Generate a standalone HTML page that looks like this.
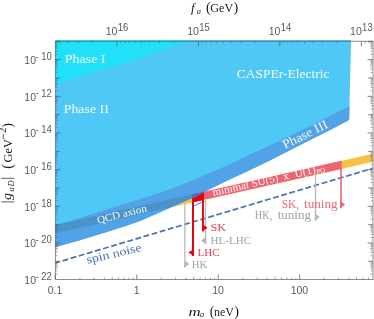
<!DOCTYPE html>
<html><head><meta charset="utf-8"><title>CASPEr-Electric sensitivity</title>
<style>html,body{margin:0;padding:0;background:#fff;}body{width:374px;height:319px;overflow:hidden;font-family:"Liberation Sans",sans-serif;}</style>
</head><body>
<svg width="374" height="319" viewBox="0 0 374 319" style="display:block;will-change:transform">
<rect width="374" height="319" fill="#fff"/>
<defs>
<clipPath id="cas"><polygon points="55.30,40.00 351.10,40.00 349.10,119.70 347.40,121.00 328.10,131.00 308.10,141.00 288.50,151.00 268.90,161.00 248.10,171.00 226.50,181.00 206.20,191.10 194.80,197.00 185.40,201.00 163.00,211.00 140.20,221.00 125.00,226.30 110.10,231.00 77.30,241.00 55.30,247.20"/></clipPath>
<clipPath id="plot"><rect x="55.4" y="40.0" width="317.20000000000005" height="239.5"/></clipPath>
</defs>
<g clip-path="url(#plot)">
<polygon points="55.40,225.14 374.60,153.28 374.60,161.48 55.40,233.34" fill="#f5c242"/>
<polygon points="192.00,194.39 341.60,160.71 341.60,168.91 192.00,202.59" fill="#ee6474"/>
<polygon points="192.00,194.39 204.00,191.69 204.00,199.89 192.00,202.59" fill="#e8000e"/>
<polygon points="55.30,40.00 351.10,40.00 349.10,119.70 347.40,121.00 328.10,131.00 308.10,141.00 288.50,151.00 268.90,161.00 248.10,171.00 226.50,181.00 206.20,191.10 194.80,197.00 185.40,201.00 163.00,211.00 140.20,221.00 125.00,226.30 110.10,231.00 77.30,241.00 55.30,247.20" fill="#4fc8f5"/>
<polygon points="55.30,224.20 70.70,221.00 100.00,211.40 133.90,201.00 165.20,191.00 191.20,181.00 214.40,171.00 236.80,161.00 257.50,151.00 279.30,141.00 300.00,131.00 319.70,121.20 338.50,111.60 349.50,106.20 349.10,119.70 347.40,121.00 328.10,131.00 308.10,141.00 288.50,151.00 268.90,161.00 248.10,171.00 226.50,181.00 206.20,191.10 194.80,197.00 185.40,201.00 163.00,211.00 140.20,221.00 125.00,226.30 110.10,231.00 77.30,241.00 55.30,247.20" fill="#52a2e8"/>
<polygon points="55.30,40.00 191.40,40.00 162.90,50.00 134.50,60.00 101.70,70.00 68.40,80.00 55.30,83.90" fill="#22e0f7"/>
<g clip-path="url(#cas)">
<polygon points="55.40,225.14 372.60,153.73 372.60,161.93 55.40,233.34" fill="#4a93c6"/>
<polygon points="192.00,194.39 204.00,191.69 204.00,199.89 192.00,202.59" fill="#4a6cc0"/>
</g>
<line x1="55.4" y1="262.93" x2="373.6" y2="168.01" stroke="#4a72b4" stroke-width="1.75" stroke-dasharray="5.9 2.55" stroke-dashoffset="1.0"/>
<line x1="184.9" y1="203.68" x2="184.9" y2="267.6" stroke="#b8b8b8" stroke-width="1.3"/>
<polygon points="184.3,260.4 189.5,264.0 184.3,267.6" fill="#b8b8b8"/>
<line x1="205.5" y1="199.05" x2="205.5" y2="244.2" stroke="#b8b8b8" stroke-width="1.3"/>
<polygon points="206.1,236.8 200.9,240.5 206.1,244.2" fill="#b8b8b8"/>
<line x1="315.5" y1="174.29" x2="315.5" y2="220.7" stroke="#b8b8b8" stroke-width="1.3"/>
<polygon points="314.9,213.2 319.7,216.9 314.9,220.7" fill="#b8b8b8"/>
<line x1="193" y1="201.86" x2="193" y2="256.1" stroke="#e8000e" stroke-width="2"/>
<polygon points="194,248.9 188.4,252.5 194,256.1" fill="#e8000e"/>
<line x1="203.0" y1="199.61" x2="203.0" y2="231.2" stroke="#e8000e" stroke-width="1.9"/>
<polygon points="202.0,224.0 207.7,227.8 202.0,231.6" fill="#e8000e"/>
<line x1="341" y1="168.55" x2="341" y2="208.2" stroke="#ee6474" stroke-width="1.6"/>
<polygon points="340.2,201 345.2,204.6 340.2,208.2" fill="#ee6474"/>
<line x1="192" y1="206.6" x2="204.5" y2="201.2" stroke="#3a4a9a" stroke-width="0.8"/>
</g>
<text x="64.7" y="63" font-family="'Liberation Serif', serif" font-size="12.8" fill="#fff" fill-opacity="0.94" text-anchor="start" textLength="41.0" lengthAdjust="spacingAndGlyphs">Phase I</text>
<text x="63.7" y="113.1" font-family="'Liberation Serif', serif" font-size="12.8" fill="#fff" fill-opacity="0.94" text-anchor="start" textLength="45.1" lengthAdjust="spacingAndGlyphs">Phase II</text>
<text x="236.8" y="78.3" font-family="'Liberation Serif', serif" font-size="13" fill="#fff" fill-opacity="0.94" text-anchor="start" textLength="92.6" lengthAdjust="spacingAndGlyphs">CASPEr-Electric</text>
<text x="285" y="149.1" font-family="'Liberation Serif', serif" font-size="12.8" fill="#fff" fill-opacity="0.94" text-anchor="start" textLength="49" lengthAdjust="spacingAndGlyphs" transform="rotate(-26.6 285 149.1)">Phase III</text>
<text x="97.9" y="223.6" font-family="'Liberation Serif', serif" font-size="10.3" fill="#fff" fill-opacity="0.94" text-anchor="start" textLength="51.0" lengthAdjust="spacingAndGlyphs" transform="rotate(-14.0 97.9 223.6)">QCD axion</text>
<text x="87.4" y="263.8" font-family="'Liberation Serif', serif" font-size="12" fill="#4a72b4" text-anchor="start" textLength="56.3" lengthAdjust="spacingAndGlyphs" transform="rotate(-13.3 87.4 263.8)">spin noise</text>
<g transform="translate(213.2 196.0) rotate(-12.7)" font-family="'Liberation Serif', serif" fill="#fff">
<text x="0" y="0" font-size="11" textLength="67.3" lengthAdjust="spacingAndGlyphs">minimal SU(5)</text>
<text x="72.7" y="0" font-size="11">x</text>
<text x="84.3" y="0" font-size="11" textLength="21.4" lengthAdjust="spacingAndGlyphs">U(1)</text>
<text x="106" y="1.6" font-size="7.5" textLength="9.2" lengthAdjust="spacingAndGlyphs">PQ</text>
</g>
<text x="210.6" y="231.0" font-family="'Liberation Serif', serif" font-size="11.2" fill="#e63a48" text-anchor="start" textLength="15.6" lengthAdjust="spacingAndGlyphs">SK</text>
<text x="210.4" y="244.4" font-family="'Liberation Serif', serif" font-size="11.2" fill="#a2a2a2" text-anchor="start" textLength="40.8" lengthAdjust="spacingAndGlyphs">HL-LHC</text>
<text x="197.4" y="255.9" font-family="'Liberation Serif', serif" font-size="11.2" fill="#e63a48" text-anchor="start" textLength="22.2" lengthAdjust="spacingAndGlyphs">LHC</text>
<text x="191.7" y="267.9" font-family="'Liberation Serif', serif" font-size="11.2" fill="#a2a2a2" text-anchor="start" textLength="15.6" lengthAdjust="spacingAndGlyphs">HK</text>
<text x="281.7" y="207.6" font-family="'Liberation Serif', serif" font-size="11.5" fill="#ee6878" text-anchor="start" textLength="17.4" lengthAdjust="spacingAndGlyphs">SK,</text>
<text x="304.0" y="207.6" font-family="'Liberation Serif', serif" font-size="11.5" fill="#ee6878" text-anchor="start" textLength="33.6" lengthAdjust="spacingAndGlyphs">tuning</text>
<text x="254.8" y="218.8" font-family="'Liberation Serif', serif" font-size="11.5" fill="#a2a2a2" text-anchor="start" textLength="17.6" lengthAdjust="spacingAndGlyphs">HK,</text>
<text x="277.7" y="218.8" font-family="'Liberation Serif', serif" font-size="11.5" fill="#a2a2a2" text-anchor="start" textLength="33.3" lengthAdjust="spacingAndGlyphs">tuning</text>
<polyline points="372.90000000000003,41.3 55.4,41.3 55.4,279.5 372.90000000000003,279.5" fill="none" stroke="#5c5c5c" stroke-width="0.95" opacity="0.74"/>
<rect x="372.0" y="40.8" width="2.2" height="239.2" fill="#5c5c5c" opacity="0.34"/>
<line x1="55.40" y1="274.13" x2="57.40" y2="274.13" stroke="#5c5c5c" stroke-width="0.65" opacity="0.85"/>
<line x1="372.60" y1="274.13" x2="370.60" y2="274.13" stroke="#5c5c5c" stroke-width="0.65" opacity="0.85"/>
<line x1="55.40" y1="270.90" x2="57.40" y2="270.90" stroke="#5c5c5c" stroke-width="0.65" opacity="0.85"/>
<line x1="372.60" y1="270.90" x2="370.60" y2="270.90" stroke="#5c5c5c" stroke-width="0.65" opacity="0.85"/>
<line x1="55.40" y1="268.61" x2="57.40" y2="268.61" stroke="#5c5c5c" stroke-width="0.65" opacity="0.85"/>
<line x1="372.60" y1="268.61" x2="370.60" y2="268.61" stroke="#5c5c5c" stroke-width="0.65" opacity="0.85"/>
<line x1="55.40" y1="266.83" x2="58.00" y2="266.83" stroke="#5c5c5c" stroke-width="0.65" opacity="0.85"/>
<line x1="372.60" y1="266.83" x2="370.00" y2="266.83" stroke="#5c5c5c" stroke-width="0.65" opacity="0.85"/>
<line x1="55.40" y1="265.38" x2="57.40" y2="265.38" stroke="#5c5c5c" stroke-width="0.65" opacity="0.85"/>
<line x1="372.60" y1="265.38" x2="370.60" y2="265.38" stroke="#5c5c5c" stroke-width="0.65" opacity="0.85"/>
<line x1="55.40" y1="264.15" x2="57.40" y2="264.15" stroke="#5c5c5c" stroke-width="0.65" opacity="0.85"/>
<line x1="372.60" y1="264.15" x2="370.60" y2="264.15" stroke="#5c5c5c" stroke-width="0.65" opacity="0.85"/>
<line x1="55.40" y1="263.09" x2="57.40" y2="263.09" stroke="#5c5c5c" stroke-width="0.65" opacity="0.85"/>
<line x1="372.60" y1="263.09" x2="370.60" y2="263.09" stroke="#5c5c5c" stroke-width="0.65" opacity="0.85"/>
<line x1="55.40" y1="262.15" x2="57.40" y2="262.15" stroke="#5c5c5c" stroke-width="0.65" opacity="0.85"/>
<line x1="372.60" y1="262.15" x2="370.60" y2="262.15" stroke="#5c5c5c" stroke-width="0.65" opacity="0.85"/>
<line x1="55.40" y1="261.31" x2="59.80" y2="261.31" stroke="#5c5c5c" stroke-width="0.85" opacity="0.9"/>
<line x1="372.60" y1="261.31" x2="368.20" y2="261.31" stroke="#5c5c5c" stroke-width="0.85" opacity="0.9"/>
<line x1="55.40" y1="255.79" x2="57.40" y2="255.79" stroke="#5c5c5c" stroke-width="0.65" opacity="0.85"/>
<line x1="372.60" y1="255.79" x2="370.60" y2="255.79" stroke="#5c5c5c" stroke-width="0.65" opacity="0.85"/>
<line x1="55.40" y1="252.57" x2="57.40" y2="252.57" stroke="#5c5c5c" stroke-width="0.65" opacity="0.85"/>
<line x1="372.60" y1="252.57" x2="370.60" y2="252.57" stroke="#5c5c5c" stroke-width="0.65" opacity="0.85"/>
<line x1="55.40" y1="250.28" x2="57.40" y2="250.28" stroke="#5c5c5c" stroke-width="0.65" opacity="0.85"/>
<line x1="372.60" y1="250.28" x2="370.60" y2="250.28" stroke="#5c5c5c" stroke-width="0.65" opacity="0.85"/>
<line x1="55.40" y1="248.50" x2="58.00" y2="248.50" stroke="#5c5c5c" stroke-width="0.65" opacity="0.85"/>
<line x1="372.60" y1="248.50" x2="370.00" y2="248.50" stroke="#5c5c5c" stroke-width="0.65" opacity="0.85"/>
<line x1="55.40" y1="247.05" x2="57.40" y2="247.05" stroke="#5c5c5c" stroke-width="0.65" opacity="0.85"/>
<line x1="372.60" y1="247.05" x2="370.60" y2="247.05" stroke="#5c5c5c" stroke-width="0.65" opacity="0.85"/>
<line x1="55.40" y1="245.82" x2="57.40" y2="245.82" stroke="#5c5c5c" stroke-width="0.65" opacity="0.85"/>
<line x1="372.60" y1="245.82" x2="370.60" y2="245.82" stroke="#5c5c5c" stroke-width="0.65" opacity="0.85"/>
<line x1="55.40" y1="244.76" x2="57.40" y2="244.76" stroke="#5c5c5c" stroke-width="0.65" opacity="0.85"/>
<line x1="372.60" y1="244.76" x2="370.60" y2="244.76" stroke="#5c5c5c" stroke-width="0.65" opacity="0.85"/>
<line x1="55.40" y1="243.82" x2="57.40" y2="243.82" stroke="#5c5c5c" stroke-width="0.65" opacity="0.85"/>
<line x1="372.60" y1="243.82" x2="370.60" y2="243.82" stroke="#5c5c5c" stroke-width="0.65" opacity="0.85"/>
<line x1="55.40" y1="242.98" x2="60.40" y2="242.98" stroke="#5c5c5c" stroke-width="0.85" opacity="0.9"/>
<line x1="372.60" y1="242.98" x2="367.60" y2="242.98" stroke="#5c5c5c" stroke-width="0.85" opacity="0.9"/>
<line x1="55.40" y1="237.46" x2="57.40" y2="237.46" stroke="#5c5c5c" stroke-width="0.65" opacity="0.85"/>
<line x1="372.60" y1="237.46" x2="370.60" y2="237.46" stroke="#5c5c5c" stroke-width="0.65" opacity="0.85"/>
<line x1="55.40" y1="234.23" x2="57.40" y2="234.23" stroke="#5c5c5c" stroke-width="0.65" opacity="0.85"/>
<line x1="372.60" y1="234.23" x2="370.60" y2="234.23" stroke="#5c5c5c" stroke-width="0.65" opacity="0.85"/>
<line x1="55.40" y1="231.94" x2="57.40" y2="231.94" stroke="#5c5c5c" stroke-width="0.65" opacity="0.85"/>
<line x1="372.60" y1="231.94" x2="370.60" y2="231.94" stroke="#5c5c5c" stroke-width="0.65" opacity="0.85"/>
<line x1="55.40" y1="230.17" x2="58.00" y2="230.17" stroke="#5c5c5c" stroke-width="0.65" opacity="0.85"/>
<line x1="372.60" y1="230.17" x2="370.00" y2="230.17" stroke="#5c5c5c" stroke-width="0.65" opacity="0.85"/>
<line x1="55.40" y1="228.71" x2="57.40" y2="228.71" stroke="#5c5c5c" stroke-width="0.65" opacity="0.85"/>
<line x1="372.60" y1="228.71" x2="370.60" y2="228.71" stroke="#5c5c5c" stroke-width="0.65" opacity="0.85"/>
<line x1="55.40" y1="227.49" x2="57.40" y2="227.49" stroke="#5c5c5c" stroke-width="0.65" opacity="0.85"/>
<line x1="372.60" y1="227.49" x2="370.60" y2="227.49" stroke="#5c5c5c" stroke-width="0.65" opacity="0.85"/>
<line x1="55.40" y1="226.42" x2="57.40" y2="226.42" stroke="#5c5c5c" stroke-width="0.65" opacity="0.85"/>
<line x1="372.60" y1="226.42" x2="370.60" y2="226.42" stroke="#5c5c5c" stroke-width="0.65" opacity="0.85"/>
<line x1="55.40" y1="225.49" x2="57.40" y2="225.49" stroke="#5c5c5c" stroke-width="0.65" opacity="0.85"/>
<line x1="372.60" y1="225.49" x2="370.60" y2="225.49" stroke="#5c5c5c" stroke-width="0.65" opacity="0.85"/>
<line x1="55.40" y1="224.65" x2="59.80" y2="224.65" stroke="#5c5c5c" stroke-width="0.85" opacity="0.9"/>
<line x1="372.60" y1="224.65" x2="368.20" y2="224.65" stroke="#5c5c5c" stroke-width="0.85" opacity="0.9"/>
<line x1="55.40" y1="219.13" x2="57.40" y2="219.13" stroke="#5c5c5c" stroke-width="0.65" opacity="0.85"/>
<line x1="372.60" y1="219.13" x2="370.60" y2="219.13" stroke="#5c5c5c" stroke-width="0.65" opacity="0.85"/>
<line x1="55.40" y1="215.90" x2="57.40" y2="215.90" stroke="#5c5c5c" stroke-width="0.65" opacity="0.85"/>
<line x1="372.60" y1="215.90" x2="370.60" y2="215.90" stroke="#5c5c5c" stroke-width="0.65" opacity="0.85"/>
<line x1="55.40" y1="213.61" x2="57.40" y2="213.61" stroke="#5c5c5c" stroke-width="0.65" opacity="0.85"/>
<line x1="372.60" y1="213.61" x2="370.60" y2="213.61" stroke="#5c5c5c" stroke-width="0.65" opacity="0.85"/>
<line x1="55.40" y1="211.83" x2="58.00" y2="211.83" stroke="#5c5c5c" stroke-width="0.65" opacity="0.85"/>
<line x1="372.60" y1="211.83" x2="370.00" y2="211.83" stroke="#5c5c5c" stroke-width="0.65" opacity="0.85"/>
<line x1="55.40" y1="210.38" x2="57.40" y2="210.38" stroke="#5c5c5c" stroke-width="0.65" opacity="0.85"/>
<line x1="372.60" y1="210.38" x2="370.60" y2="210.38" stroke="#5c5c5c" stroke-width="0.65" opacity="0.85"/>
<line x1="55.40" y1="209.15" x2="57.40" y2="209.15" stroke="#5c5c5c" stroke-width="0.65" opacity="0.85"/>
<line x1="372.60" y1="209.15" x2="370.60" y2="209.15" stroke="#5c5c5c" stroke-width="0.65" opacity="0.85"/>
<line x1="55.40" y1="208.09" x2="57.40" y2="208.09" stroke="#5c5c5c" stroke-width="0.65" opacity="0.85"/>
<line x1="372.60" y1="208.09" x2="370.60" y2="208.09" stroke="#5c5c5c" stroke-width="0.65" opacity="0.85"/>
<line x1="55.40" y1="207.15" x2="57.40" y2="207.15" stroke="#5c5c5c" stroke-width="0.65" opacity="0.85"/>
<line x1="372.60" y1="207.15" x2="370.60" y2="207.15" stroke="#5c5c5c" stroke-width="0.65" opacity="0.85"/>
<line x1="55.40" y1="206.31" x2="60.40" y2="206.31" stroke="#5c5c5c" stroke-width="0.85" opacity="0.9"/>
<line x1="372.60" y1="206.31" x2="367.60" y2="206.31" stroke="#5c5c5c" stroke-width="0.85" opacity="0.9"/>
<line x1="55.40" y1="200.80" x2="57.40" y2="200.80" stroke="#5c5c5c" stroke-width="0.65" opacity="0.85"/>
<line x1="372.60" y1="200.80" x2="370.60" y2="200.80" stroke="#5c5c5c" stroke-width="0.65" opacity="0.85"/>
<line x1="55.40" y1="197.57" x2="57.40" y2="197.57" stroke="#5c5c5c" stroke-width="0.65" opacity="0.85"/>
<line x1="372.60" y1="197.57" x2="370.60" y2="197.57" stroke="#5c5c5c" stroke-width="0.65" opacity="0.85"/>
<line x1="55.40" y1="195.28" x2="57.40" y2="195.28" stroke="#5c5c5c" stroke-width="0.65" opacity="0.85"/>
<line x1="372.60" y1="195.28" x2="370.60" y2="195.28" stroke="#5c5c5c" stroke-width="0.65" opacity="0.85"/>
<line x1="55.40" y1="193.50" x2="58.00" y2="193.50" stroke="#5c5c5c" stroke-width="0.65" opacity="0.85"/>
<line x1="372.60" y1="193.50" x2="370.00" y2="193.50" stroke="#5c5c5c" stroke-width="0.65" opacity="0.85"/>
<line x1="55.40" y1="192.05" x2="57.40" y2="192.05" stroke="#5c5c5c" stroke-width="0.65" opacity="0.85"/>
<line x1="372.60" y1="192.05" x2="370.60" y2="192.05" stroke="#5c5c5c" stroke-width="0.65" opacity="0.85"/>
<line x1="55.40" y1="190.82" x2="57.40" y2="190.82" stroke="#5c5c5c" stroke-width="0.65" opacity="0.85"/>
<line x1="372.60" y1="190.82" x2="370.60" y2="190.82" stroke="#5c5c5c" stroke-width="0.65" opacity="0.85"/>
<line x1="55.40" y1="189.76" x2="57.40" y2="189.76" stroke="#5c5c5c" stroke-width="0.65" opacity="0.85"/>
<line x1="372.60" y1="189.76" x2="370.60" y2="189.76" stroke="#5c5c5c" stroke-width="0.65" opacity="0.85"/>
<line x1="55.40" y1="188.82" x2="57.40" y2="188.82" stroke="#5c5c5c" stroke-width="0.65" opacity="0.85"/>
<line x1="372.60" y1="188.82" x2="370.60" y2="188.82" stroke="#5c5c5c" stroke-width="0.65" opacity="0.85"/>
<line x1="55.40" y1="187.98" x2="59.80" y2="187.98" stroke="#5c5c5c" stroke-width="0.85" opacity="0.9"/>
<line x1="372.60" y1="187.98" x2="368.20" y2="187.98" stroke="#5c5c5c" stroke-width="0.85" opacity="0.9"/>
<line x1="55.40" y1="182.46" x2="57.40" y2="182.46" stroke="#5c5c5c" stroke-width="0.65" opacity="0.85"/>
<line x1="372.60" y1="182.46" x2="370.60" y2="182.46" stroke="#5c5c5c" stroke-width="0.65" opacity="0.85"/>
<line x1="55.40" y1="179.23" x2="57.40" y2="179.23" stroke="#5c5c5c" stroke-width="0.65" opacity="0.85"/>
<line x1="372.60" y1="179.23" x2="370.60" y2="179.23" stroke="#5c5c5c" stroke-width="0.65" opacity="0.85"/>
<line x1="55.40" y1="176.94" x2="57.40" y2="176.94" stroke="#5c5c5c" stroke-width="0.65" opacity="0.85"/>
<line x1="372.60" y1="176.94" x2="370.60" y2="176.94" stroke="#5c5c5c" stroke-width="0.65" opacity="0.85"/>
<line x1="55.40" y1="175.17" x2="58.00" y2="175.17" stroke="#5c5c5c" stroke-width="0.65" opacity="0.85"/>
<line x1="372.60" y1="175.17" x2="370.00" y2="175.17" stroke="#5c5c5c" stroke-width="0.65" opacity="0.85"/>
<line x1="55.40" y1="173.72" x2="57.40" y2="173.72" stroke="#5c5c5c" stroke-width="0.65" opacity="0.85"/>
<line x1="372.60" y1="173.72" x2="370.60" y2="173.72" stroke="#5c5c5c" stroke-width="0.65" opacity="0.85"/>
<line x1="55.40" y1="172.49" x2="57.40" y2="172.49" stroke="#5c5c5c" stroke-width="0.65" opacity="0.85"/>
<line x1="372.60" y1="172.49" x2="370.60" y2="172.49" stroke="#5c5c5c" stroke-width="0.65" opacity="0.85"/>
<line x1="55.40" y1="171.42" x2="57.40" y2="171.42" stroke="#5c5c5c" stroke-width="0.65" opacity="0.85"/>
<line x1="372.60" y1="171.42" x2="370.60" y2="171.42" stroke="#5c5c5c" stroke-width="0.65" opacity="0.85"/>
<line x1="55.40" y1="170.49" x2="57.40" y2="170.49" stroke="#5c5c5c" stroke-width="0.65" opacity="0.85"/>
<line x1="372.60" y1="170.49" x2="370.60" y2="170.49" stroke="#5c5c5c" stroke-width="0.65" opacity="0.85"/>
<line x1="55.40" y1="169.65" x2="60.40" y2="169.65" stroke="#5c5c5c" stroke-width="0.85" opacity="0.9"/>
<line x1="372.60" y1="169.65" x2="367.60" y2="169.65" stroke="#5c5c5c" stroke-width="0.85" opacity="0.9"/>
<line x1="55.40" y1="164.13" x2="57.40" y2="164.13" stroke="#5c5c5c" stroke-width="0.65" opacity="0.85"/>
<line x1="372.60" y1="164.13" x2="370.60" y2="164.13" stroke="#5c5c5c" stroke-width="0.65" opacity="0.85"/>
<line x1="55.40" y1="160.90" x2="57.40" y2="160.90" stroke="#5c5c5c" stroke-width="0.65" opacity="0.85"/>
<line x1="372.60" y1="160.90" x2="370.60" y2="160.90" stroke="#5c5c5c" stroke-width="0.65" opacity="0.85"/>
<line x1="55.40" y1="158.61" x2="57.40" y2="158.61" stroke="#5c5c5c" stroke-width="0.65" opacity="0.85"/>
<line x1="372.60" y1="158.61" x2="370.60" y2="158.61" stroke="#5c5c5c" stroke-width="0.65" opacity="0.85"/>
<line x1="55.40" y1="156.83" x2="58.00" y2="156.83" stroke="#5c5c5c" stroke-width="0.65" opacity="0.85"/>
<line x1="372.60" y1="156.83" x2="370.00" y2="156.83" stroke="#5c5c5c" stroke-width="0.65" opacity="0.85"/>
<line x1="55.40" y1="155.38" x2="57.40" y2="155.38" stroke="#5c5c5c" stroke-width="0.65" opacity="0.85"/>
<line x1="372.60" y1="155.38" x2="370.60" y2="155.38" stroke="#5c5c5c" stroke-width="0.65" opacity="0.85"/>
<line x1="55.40" y1="154.15" x2="57.40" y2="154.15" stroke="#5c5c5c" stroke-width="0.65" opacity="0.85"/>
<line x1="372.60" y1="154.15" x2="370.60" y2="154.15" stroke="#5c5c5c" stroke-width="0.65" opacity="0.85"/>
<line x1="55.40" y1="153.09" x2="57.40" y2="153.09" stroke="#5c5c5c" stroke-width="0.65" opacity="0.85"/>
<line x1="372.60" y1="153.09" x2="370.60" y2="153.09" stroke="#5c5c5c" stroke-width="0.65" opacity="0.85"/>
<line x1="55.40" y1="152.15" x2="57.40" y2="152.15" stroke="#5c5c5c" stroke-width="0.65" opacity="0.85"/>
<line x1="372.60" y1="152.15" x2="370.60" y2="152.15" stroke="#5c5c5c" stroke-width="0.65" opacity="0.85"/>
<line x1="55.40" y1="151.31" x2="59.80" y2="151.31" stroke="#5c5c5c" stroke-width="0.85" opacity="0.9"/>
<line x1="372.60" y1="151.31" x2="368.20" y2="151.31" stroke="#5c5c5c" stroke-width="0.85" opacity="0.9"/>
<line x1="55.40" y1="145.80" x2="57.40" y2="145.80" stroke="#5c5c5c" stroke-width="0.65" opacity="0.85"/>
<line x1="372.60" y1="145.80" x2="370.60" y2="145.80" stroke="#5c5c5c" stroke-width="0.65" opacity="0.85"/>
<line x1="55.40" y1="142.57" x2="57.40" y2="142.57" stroke="#5c5c5c" stroke-width="0.65" opacity="0.85"/>
<line x1="372.60" y1="142.57" x2="370.60" y2="142.57" stroke="#5c5c5c" stroke-width="0.65" opacity="0.85"/>
<line x1="55.40" y1="140.28" x2="57.40" y2="140.28" stroke="#5c5c5c" stroke-width="0.65" opacity="0.85"/>
<line x1="372.60" y1="140.28" x2="370.60" y2="140.28" stroke="#5c5c5c" stroke-width="0.65" opacity="0.85"/>
<line x1="55.40" y1="138.50" x2="58.00" y2="138.50" stroke="#5c5c5c" stroke-width="0.65" opacity="0.85"/>
<line x1="372.60" y1="138.50" x2="370.00" y2="138.50" stroke="#5c5c5c" stroke-width="0.65" opacity="0.85"/>
<line x1="55.40" y1="137.05" x2="57.40" y2="137.05" stroke="#5c5c5c" stroke-width="0.65" opacity="0.85"/>
<line x1="372.60" y1="137.05" x2="370.60" y2="137.05" stroke="#5c5c5c" stroke-width="0.65" opacity="0.85"/>
<line x1="55.40" y1="135.82" x2="57.40" y2="135.82" stroke="#5c5c5c" stroke-width="0.65" opacity="0.85"/>
<line x1="372.60" y1="135.82" x2="370.60" y2="135.82" stroke="#5c5c5c" stroke-width="0.65" opacity="0.85"/>
<line x1="55.40" y1="134.76" x2="57.40" y2="134.76" stroke="#5c5c5c" stroke-width="0.65" opacity="0.85"/>
<line x1="372.60" y1="134.76" x2="370.60" y2="134.76" stroke="#5c5c5c" stroke-width="0.65" opacity="0.85"/>
<line x1="55.40" y1="133.82" x2="57.40" y2="133.82" stroke="#5c5c5c" stroke-width="0.65" opacity="0.85"/>
<line x1="372.60" y1="133.82" x2="370.60" y2="133.82" stroke="#5c5c5c" stroke-width="0.65" opacity="0.85"/>
<line x1="55.40" y1="132.98" x2="60.40" y2="132.98" stroke="#5c5c5c" stroke-width="0.85" opacity="0.9"/>
<line x1="372.60" y1="132.98" x2="367.60" y2="132.98" stroke="#5c5c5c" stroke-width="0.85" opacity="0.9"/>
<line x1="55.40" y1="127.46" x2="57.40" y2="127.46" stroke="#5c5c5c" stroke-width="0.65" opacity="0.85"/>
<line x1="372.60" y1="127.46" x2="370.60" y2="127.46" stroke="#5c5c5c" stroke-width="0.65" opacity="0.85"/>
<line x1="55.40" y1="124.23" x2="57.40" y2="124.23" stroke="#5c5c5c" stroke-width="0.65" opacity="0.85"/>
<line x1="372.60" y1="124.23" x2="370.60" y2="124.23" stroke="#5c5c5c" stroke-width="0.65" opacity="0.85"/>
<line x1="55.40" y1="121.94" x2="57.40" y2="121.94" stroke="#5c5c5c" stroke-width="0.65" opacity="0.85"/>
<line x1="372.60" y1="121.94" x2="370.60" y2="121.94" stroke="#5c5c5c" stroke-width="0.65" opacity="0.85"/>
<line x1="55.40" y1="120.17" x2="58.00" y2="120.17" stroke="#5c5c5c" stroke-width="0.65" opacity="0.85"/>
<line x1="372.60" y1="120.17" x2="370.00" y2="120.17" stroke="#5c5c5c" stroke-width="0.65" opacity="0.85"/>
<line x1="55.40" y1="118.72" x2="57.40" y2="118.72" stroke="#5c5c5c" stroke-width="0.65" opacity="0.85"/>
<line x1="372.60" y1="118.72" x2="370.60" y2="118.72" stroke="#5c5c5c" stroke-width="0.65" opacity="0.85"/>
<line x1="55.40" y1="117.49" x2="57.40" y2="117.49" stroke="#5c5c5c" stroke-width="0.65" opacity="0.85"/>
<line x1="372.60" y1="117.49" x2="370.60" y2="117.49" stroke="#5c5c5c" stroke-width="0.65" opacity="0.85"/>
<line x1="55.40" y1="116.43" x2="57.40" y2="116.43" stroke="#5c5c5c" stroke-width="0.65" opacity="0.85"/>
<line x1="372.60" y1="116.43" x2="370.60" y2="116.43" stroke="#5c5c5c" stroke-width="0.65" opacity="0.85"/>
<line x1="55.40" y1="115.49" x2="57.40" y2="115.49" stroke="#5c5c5c" stroke-width="0.65" opacity="0.85"/>
<line x1="372.60" y1="115.49" x2="370.60" y2="115.49" stroke="#5c5c5c" stroke-width="0.65" opacity="0.85"/>
<line x1="55.40" y1="114.65" x2="59.80" y2="114.65" stroke="#5c5c5c" stroke-width="0.85" opacity="0.9"/>
<line x1="372.60" y1="114.65" x2="368.20" y2="114.65" stroke="#5c5c5c" stroke-width="0.85" opacity="0.9"/>
<line x1="55.40" y1="109.13" x2="57.40" y2="109.13" stroke="#5c5c5c" stroke-width="0.65" opacity="0.85"/>
<line x1="372.60" y1="109.13" x2="370.60" y2="109.13" stroke="#5c5c5c" stroke-width="0.65" opacity="0.85"/>
<line x1="55.40" y1="105.90" x2="57.40" y2="105.90" stroke="#5c5c5c" stroke-width="0.65" opacity="0.85"/>
<line x1="372.60" y1="105.90" x2="370.60" y2="105.90" stroke="#5c5c5c" stroke-width="0.65" opacity="0.85"/>
<line x1="55.40" y1="103.61" x2="57.40" y2="103.61" stroke="#5c5c5c" stroke-width="0.65" opacity="0.85"/>
<line x1="372.60" y1="103.61" x2="370.60" y2="103.61" stroke="#5c5c5c" stroke-width="0.65" opacity="0.85"/>
<line x1="55.40" y1="101.83" x2="58.00" y2="101.83" stroke="#5c5c5c" stroke-width="0.65" opacity="0.85"/>
<line x1="372.60" y1="101.83" x2="370.00" y2="101.83" stroke="#5c5c5c" stroke-width="0.65" opacity="0.85"/>
<line x1="55.40" y1="100.38" x2="57.40" y2="100.38" stroke="#5c5c5c" stroke-width="0.65" opacity="0.85"/>
<line x1="372.60" y1="100.38" x2="370.60" y2="100.38" stroke="#5c5c5c" stroke-width="0.65" opacity="0.85"/>
<line x1="55.40" y1="99.16" x2="57.40" y2="99.16" stroke="#5c5c5c" stroke-width="0.65" opacity="0.85"/>
<line x1="372.60" y1="99.16" x2="370.60" y2="99.16" stroke="#5c5c5c" stroke-width="0.65" opacity="0.85"/>
<line x1="55.40" y1="98.09" x2="57.40" y2="98.09" stroke="#5c5c5c" stroke-width="0.65" opacity="0.85"/>
<line x1="372.60" y1="98.09" x2="370.60" y2="98.09" stroke="#5c5c5c" stroke-width="0.65" opacity="0.85"/>
<line x1="55.40" y1="97.15" x2="57.40" y2="97.15" stroke="#5c5c5c" stroke-width="0.65" opacity="0.85"/>
<line x1="372.60" y1="97.15" x2="370.60" y2="97.15" stroke="#5c5c5c" stroke-width="0.65" opacity="0.85"/>
<line x1="55.40" y1="96.32" x2="60.40" y2="96.32" stroke="#5c5c5c" stroke-width="0.85" opacity="0.9"/>
<line x1="372.60" y1="96.32" x2="367.60" y2="96.32" stroke="#5c5c5c" stroke-width="0.85" opacity="0.9"/>
<line x1="55.40" y1="90.80" x2="57.40" y2="90.80" stroke="#5c5c5c" stroke-width="0.65" opacity="0.85"/>
<line x1="372.60" y1="90.80" x2="370.60" y2="90.80" stroke="#5c5c5c" stroke-width="0.65" opacity="0.85"/>
<line x1="55.40" y1="87.57" x2="57.40" y2="87.57" stroke="#5c5c5c" stroke-width="0.65" opacity="0.85"/>
<line x1="372.60" y1="87.57" x2="370.60" y2="87.57" stroke="#5c5c5c" stroke-width="0.65" opacity="0.85"/>
<line x1="55.40" y1="85.28" x2="57.40" y2="85.28" stroke="#5c5c5c" stroke-width="0.65" opacity="0.85"/>
<line x1="372.60" y1="85.28" x2="370.60" y2="85.28" stroke="#5c5c5c" stroke-width="0.65" opacity="0.85"/>
<line x1="55.40" y1="83.50" x2="58.00" y2="83.50" stroke="#5c5c5c" stroke-width="0.65" opacity="0.85"/>
<line x1="372.60" y1="83.50" x2="370.00" y2="83.50" stroke="#5c5c5c" stroke-width="0.65" opacity="0.85"/>
<line x1="55.40" y1="82.05" x2="57.40" y2="82.05" stroke="#5c5c5c" stroke-width="0.65" opacity="0.85"/>
<line x1="372.60" y1="82.05" x2="370.60" y2="82.05" stroke="#5c5c5c" stroke-width="0.65" opacity="0.85"/>
<line x1="55.40" y1="80.82" x2="57.40" y2="80.82" stroke="#5c5c5c" stroke-width="0.65" opacity="0.85"/>
<line x1="372.60" y1="80.82" x2="370.60" y2="80.82" stroke="#5c5c5c" stroke-width="0.65" opacity="0.85"/>
<line x1="55.40" y1="79.76" x2="57.40" y2="79.76" stroke="#5c5c5c" stroke-width="0.65" opacity="0.85"/>
<line x1="372.60" y1="79.76" x2="370.60" y2="79.76" stroke="#5c5c5c" stroke-width="0.65" opacity="0.85"/>
<line x1="55.40" y1="78.82" x2="57.40" y2="78.82" stroke="#5c5c5c" stroke-width="0.65" opacity="0.85"/>
<line x1="372.60" y1="78.82" x2="370.60" y2="78.82" stroke="#5c5c5c" stroke-width="0.65" opacity="0.85"/>
<line x1="55.40" y1="77.98" x2="59.80" y2="77.98" stroke="#5c5c5c" stroke-width="0.85" opacity="0.9"/>
<line x1="372.60" y1="77.98" x2="368.20" y2="77.98" stroke="#5c5c5c" stroke-width="0.85" opacity="0.9"/>
<line x1="55.40" y1="72.46" x2="57.40" y2="72.46" stroke="#5c5c5c" stroke-width="0.65" opacity="0.85"/>
<line x1="372.60" y1="72.46" x2="370.60" y2="72.46" stroke="#5c5c5c" stroke-width="0.65" opacity="0.85"/>
<line x1="55.40" y1="69.24" x2="57.40" y2="69.24" stroke="#5c5c5c" stroke-width="0.65" opacity="0.85"/>
<line x1="372.60" y1="69.24" x2="370.60" y2="69.24" stroke="#5c5c5c" stroke-width="0.65" opacity="0.85"/>
<line x1="55.40" y1="66.95" x2="57.40" y2="66.95" stroke="#5c5c5c" stroke-width="0.65" opacity="0.85"/>
<line x1="372.60" y1="66.95" x2="370.60" y2="66.95" stroke="#5c5c5c" stroke-width="0.65" opacity="0.85"/>
<line x1="55.40" y1="65.17" x2="58.00" y2="65.17" stroke="#5c5c5c" stroke-width="0.65" opacity="0.85"/>
<line x1="372.60" y1="65.17" x2="370.00" y2="65.17" stroke="#5c5c5c" stroke-width="0.65" opacity="0.85"/>
<line x1="55.40" y1="63.72" x2="57.40" y2="63.72" stroke="#5c5c5c" stroke-width="0.65" opacity="0.85"/>
<line x1="372.60" y1="63.72" x2="370.60" y2="63.72" stroke="#5c5c5c" stroke-width="0.65" opacity="0.85"/>
<line x1="55.40" y1="62.49" x2="57.40" y2="62.49" stroke="#5c5c5c" stroke-width="0.65" opacity="0.85"/>
<line x1="372.60" y1="62.49" x2="370.60" y2="62.49" stroke="#5c5c5c" stroke-width="0.65" opacity="0.85"/>
<line x1="55.40" y1="61.43" x2="57.40" y2="61.43" stroke="#5c5c5c" stroke-width="0.65" opacity="0.85"/>
<line x1="372.60" y1="61.43" x2="370.60" y2="61.43" stroke="#5c5c5c" stroke-width="0.65" opacity="0.85"/>
<line x1="55.40" y1="60.49" x2="57.40" y2="60.49" stroke="#5c5c5c" stroke-width="0.65" opacity="0.85"/>
<line x1="372.60" y1="60.49" x2="370.60" y2="60.49" stroke="#5c5c5c" stroke-width="0.65" opacity="0.85"/>
<line x1="55.40" y1="59.65" x2="60.40" y2="59.65" stroke="#5c5c5c" stroke-width="0.85" opacity="0.9"/>
<line x1="372.60" y1="59.65" x2="367.60" y2="59.65" stroke="#5c5c5c" stroke-width="0.85" opacity="0.9"/>
<line x1="55.40" y1="54.13" x2="57.40" y2="54.13" stroke="#5c5c5c" stroke-width="0.65" opacity="0.85"/>
<line x1="372.60" y1="54.13" x2="370.60" y2="54.13" stroke="#5c5c5c" stroke-width="0.65" opacity="0.85"/>
<line x1="55.40" y1="50.90" x2="57.40" y2="50.90" stroke="#5c5c5c" stroke-width="0.65" opacity="0.85"/>
<line x1="372.60" y1="50.90" x2="370.60" y2="50.90" stroke="#5c5c5c" stroke-width="0.65" opacity="0.85"/>
<line x1="55.40" y1="48.61" x2="57.40" y2="48.61" stroke="#5c5c5c" stroke-width="0.65" opacity="0.85"/>
<line x1="372.60" y1="48.61" x2="370.60" y2="48.61" stroke="#5c5c5c" stroke-width="0.65" opacity="0.85"/>
<line x1="55.40" y1="46.84" x2="58.00" y2="46.84" stroke="#5c5c5c" stroke-width="0.65" opacity="0.85"/>
<line x1="372.60" y1="46.84" x2="370.00" y2="46.84" stroke="#5c5c5c" stroke-width="0.65" opacity="0.85"/>
<line x1="55.40" y1="45.38" x2="57.40" y2="45.38" stroke="#5c5c5c" stroke-width="0.65" opacity="0.85"/>
<line x1="372.60" y1="45.38" x2="370.60" y2="45.38" stroke="#5c5c5c" stroke-width="0.65" opacity="0.85"/>
<line x1="55.40" y1="44.16" x2="57.40" y2="44.16" stroke="#5c5c5c" stroke-width="0.65" opacity="0.85"/>
<line x1="372.60" y1="44.16" x2="370.60" y2="44.16" stroke="#5c5c5c" stroke-width="0.65" opacity="0.85"/>
<line x1="55.40" y1="43.09" x2="57.40" y2="43.09" stroke="#5c5c5c" stroke-width="0.65" opacity="0.85"/>
<line x1="372.60" y1="43.09" x2="370.60" y2="43.09" stroke="#5c5c5c" stroke-width="0.65" opacity="0.85"/>
<line x1="55.40" y1="42.16" x2="57.40" y2="42.16" stroke="#5c5c5c" stroke-width="0.65" opacity="0.85"/>
<line x1="372.60" y1="42.16" x2="370.60" y2="42.16" stroke="#5c5c5c" stroke-width="0.65" opacity="0.85"/>
<line x1="55.40" y1="41.32" x2="59.80" y2="41.32" stroke="#5c5c5c" stroke-width="0.85" opacity="0.9"/>
<line x1="372.60" y1="41.32" x2="368.20" y2="41.32" stroke="#5c5c5c" stroke-width="0.85" opacity="0.9"/>
<line x1="55.30" y1="279.50" x2="55.30" y2="274.50" stroke="#5c5c5c" stroke-width="0.85" opacity="0.9"/>
<line x1="79.82" y1="279.50" x2="79.82" y2="277.50" stroke="#5c5c5c" stroke-width="0.65" opacity="0.85"/>
<line x1="94.16" y1="279.50" x2="94.16" y2="277.50" stroke="#5c5c5c" stroke-width="0.65" opacity="0.85"/>
<line x1="104.34" y1="279.50" x2="104.34" y2="277.50" stroke="#5c5c5c" stroke-width="0.65" opacity="0.85"/>
<line x1="112.23" y1="279.50" x2="112.23" y2="276.90" stroke="#5c5c5c" stroke-width="0.65" opacity="0.85"/>
<line x1="118.68" y1="279.50" x2="118.68" y2="277.50" stroke="#5c5c5c" stroke-width="0.65" opacity="0.85"/>
<line x1="124.13" y1="279.50" x2="124.13" y2="277.50" stroke="#5c5c5c" stroke-width="0.65" opacity="0.85"/>
<line x1="128.86" y1="279.50" x2="128.86" y2="277.50" stroke="#5c5c5c" stroke-width="0.65" opacity="0.85"/>
<line x1="133.02" y1="279.50" x2="133.02" y2="277.50" stroke="#5c5c5c" stroke-width="0.65" opacity="0.85"/>
<line x1="136.75" y1="279.50" x2="136.75" y2="274.50" stroke="#5c5c5c" stroke-width="0.85" opacity="0.9"/>
<line x1="161.27" y1="279.50" x2="161.27" y2="277.50" stroke="#5c5c5c" stroke-width="0.65" opacity="0.85"/>
<line x1="175.61" y1="279.50" x2="175.61" y2="277.50" stroke="#5c5c5c" stroke-width="0.65" opacity="0.85"/>
<line x1="185.79" y1="279.50" x2="185.79" y2="277.50" stroke="#5c5c5c" stroke-width="0.65" opacity="0.85"/>
<line x1="193.68" y1="279.50" x2="193.68" y2="276.90" stroke="#5c5c5c" stroke-width="0.65" opacity="0.85"/>
<line x1="200.13" y1="279.50" x2="200.13" y2="277.50" stroke="#5c5c5c" stroke-width="0.65" opacity="0.85"/>
<line x1="205.58" y1="279.50" x2="205.58" y2="277.50" stroke="#5c5c5c" stroke-width="0.65" opacity="0.85"/>
<line x1="210.31" y1="279.50" x2="210.31" y2="277.50" stroke="#5c5c5c" stroke-width="0.65" opacity="0.85"/>
<line x1="214.47" y1="279.50" x2="214.47" y2="277.50" stroke="#5c5c5c" stroke-width="0.65" opacity="0.85"/>
<line x1="218.20" y1="279.50" x2="218.20" y2="274.50" stroke="#5c5c5c" stroke-width="0.85" opacity="0.9"/>
<line x1="242.72" y1="279.50" x2="242.72" y2="277.50" stroke="#5c5c5c" stroke-width="0.65" opacity="0.85"/>
<line x1="257.06" y1="279.50" x2="257.06" y2="277.50" stroke="#5c5c5c" stroke-width="0.65" opacity="0.85"/>
<line x1="267.24" y1="279.50" x2="267.24" y2="277.50" stroke="#5c5c5c" stroke-width="0.65" opacity="0.85"/>
<line x1="275.13" y1="279.50" x2="275.13" y2="276.90" stroke="#5c5c5c" stroke-width="0.65" opacity="0.85"/>
<line x1="281.58" y1="279.50" x2="281.58" y2="277.50" stroke="#5c5c5c" stroke-width="0.65" opacity="0.85"/>
<line x1="287.03" y1="279.50" x2="287.03" y2="277.50" stroke="#5c5c5c" stroke-width="0.65" opacity="0.85"/>
<line x1="291.76" y1="279.50" x2="291.76" y2="277.50" stroke="#5c5c5c" stroke-width="0.65" opacity="0.85"/>
<line x1="295.92" y1="279.50" x2="295.92" y2="277.50" stroke="#5c5c5c" stroke-width="0.65" opacity="0.85"/>
<line x1="299.65" y1="279.50" x2="299.65" y2="274.50" stroke="#5c5c5c" stroke-width="0.85" opacity="0.9"/>
<line x1="324.17" y1="279.50" x2="324.17" y2="277.50" stroke="#5c5c5c" stroke-width="0.65" opacity="0.85"/>
<line x1="338.51" y1="279.50" x2="338.51" y2="277.50" stroke="#5c5c5c" stroke-width="0.65" opacity="0.85"/>
<line x1="348.69" y1="279.50" x2="348.69" y2="277.50" stroke="#5c5c5c" stroke-width="0.65" opacity="0.85"/>
<line x1="356.58" y1="279.50" x2="356.58" y2="276.90" stroke="#5c5c5c" stroke-width="0.65" opacity="0.85"/>
<line x1="363.03" y1="279.50" x2="363.03" y2="277.50" stroke="#5c5c5c" stroke-width="0.65" opacity="0.85"/>
<line x1="368.48" y1="279.50" x2="368.48" y2="277.50" stroke="#5c5c5c" stroke-width="0.65" opacity="0.85"/>
<line x1="369.19" y1="41.30" x2="369.19" y2="43.30" stroke="#5c5c5c" stroke-width="0.65" opacity="0.85"/>
<line x1="365.03" y1="41.30" x2="365.03" y2="43.30" stroke="#5c5c5c" stroke-width="0.65" opacity="0.85"/>
<line x1="361.30" y1="41.30" x2="361.30" y2="46.30" stroke="#5c5c5c" stroke-width="0.85" opacity="0.9"/>
<line x1="336.78" y1="41.30" x2="336.78" y2="43.30" stroke="#5c5c5c" stroke-width="0.65" opacity="0.85"/>
<line x1="322.44" y1="41.30" x2="322.44" y2="43.30" stroke="#5c5c5c" stroke-width="0.65" opacity="0.85"/>
<line x1="312.26" y1="41.30" x2="312.26" y2="43.30" stroke="#5c5c5c" stroke-width="0.65" opacity="0.85"/>
<line x1="304.37" y1="41.30" x2="304.37" y2="43.90" stroke="#5c5c5c" stroke-width="0.65" opacity="0.85"/>
<line x1="297.92" y1="41.30" x2="297.92" y2="43.30" stroke="#5c5c5c" stroke-width="0.65" opacity="0.85"/>
<line x1="292.47" y1="41.30" x2="292.47" y2="43.30" stroke="#5c5c5c" stroke-width="0.65" opacity="0.85"/>
<line x1="287.74" y1="41.30" x2="287.74" y2="43.30" stroke="#5c5c5c" stroke-width="0.65" opacity="0.85"/>
<line x1="283.58" y1="41.30" x2="283.58" y2="43.30" stroke="#5c5c5c" stroke-width="0.65" opacity="0.85"/>
<line x1="279.85" y1="41.30" x2="279.85" y2="46.30" stroke="#5c5c5c" stroke-width="0.85" opacity="0.9"/>
<line x1="255.33" y1="41.30" x2="255.33" y2="43.30" stroke="#5c5c5c" stroke-width="0.65" opacity="0.85"/>
<line x1="240.99" y1="41.30" x2="240.99" y2="43.30" stroke="#5c5c5c" stroke-width="0.65" opacity="0.85"/>
<line x1="230.81" y1="41.30" x2="230.81" y2="43.30" stroke="#5c5c5c" stroke-width="0.65" opacity="0.85"/>
<line x1="222.92" y1="41.30" x2="222.92" y2="43.90" stroke="#5c5c5c" stroke-width="0.65" opacity="0.85"/>
<line x1="216.47" y1="41.30" x2="216.47" y2="43.30" stroke="#5c5c5c" stroke-width="0.65" opacity="0.85"/>
<line x1="211.02" y1="41.30" x2="211.02" y2="43.30" stroke="#5c5c5c" stroke-width="0.65" opacity="0.85"/>
<line x1="206.29" y1="41.30" x2="206.29" y2="43.30" stroke="#5c5c5c" stroke-width="0.65" opacity="0.85"/>
<line x1="202.13" y1="41.30" x2="202.13" y2="43.30" stroke="#5c5c5c" stroke-width="0.65" opacity="0.85"/>
<line x1="198.40" y1="41.30" x2="198.40" y2="46.30" stroke="#5c5c5c" stroke-width="0.85" opacity="0.9"/>
<line x1="173.88" y1="41.30" x2="173.88" y2="43.30" stroke="#5c5c5c" stroke-width="0.65" opacity="0.85"/>
<line x1="159.54" y1="41.30" x2="159.54" y2="43.30" stroke="#5c5c5c" stroke-width="0.65" opacity="0.85"/>
<line x1="149.36" y1="41.30" x2="149.36" y2="43.30" stroke="#5c5c5c" stroke-width="0.65" opacity="0.85"/>
<line x1="141.47" y1="41.30" x2="141.47" y2="43.90" stroke="#5c5c5c" stroke-width="0.65" opacity="0.85"/>
<line x1="135.02" y1="41.30" x2="135.02" y2="43.30" stroke="#5c5c5c" stroke-width="0.65" opacity="0.85"/>
<line x1="129.57" y1="41.30" x2="129.57" y2="43.30" stroke="#5c5c5c" stroke-width="0.65" opacity="0.85"/>
<line x1="124.84" y1="41.30" x2="124.84" y2="43.30" stroke="#5c5c5c" stroke-width="0.65" opacity="0.85"/>
<line x1="120.68" y1="41.30" x2="120.68" y2="43.30" stroke="#5c5c5c" stroke-width="0.65" opacity="0.85"/>
<line x1="116.95" y1="41.30" x2="116.95" y2="46.30" stroke="#5c5c5c" stroke-width="0.85" opacity="0.9"/>
<line x1="92.43" y1="41.30" x2="92.43" y2="43.30" stroke="#5c5c5c" stroke-width="0.65" opacity="0.85"/>
<line x1="78.09" y1="41.30" x2="78.09" y2="43.30" stroke="#5c5c5c" stroke-width="0.65" opacity="0.85"/>
<line x1="67.91" y1="41.30" x2="67.91" y2="43.30" stroke="#5c5c5c" stroke-width="0.65" opacity="0.85"/>
<line x1="60.02" y1="41.30" x2="60.02" y2="43.90" stroke="#5c5c5c" stroke-width="0.65" opacity="0.85"/>
<text x="24.30" y="284.15" font-family="'Liberation Sans', sans-serif" font-size="10.5" fill="#5a5a5a" text-anchor="start">10</text>
<text x="36.10" y="279.55" font-family="'Liberation Sans', sans-serif" font-size="10.5" fill="#5a5a5a" text-anchor="start" textLength="2.5" lengthAdjust="spacingAndGlyphs">-</text>
<text x="41.20" y="280.05" font-family="'Liberation Sans', sans-serif" font-size="10.5" fill="#5a5a5a" text-anchor="start" textLength="10.6" lengthAdjust="spacingAndGlyphs">22</text>
<text x="24.30" y="247.48" font-family="'Liberation Sans', sans-serif" font-size="10.5" fill="#5a5a5a" text-anchor="start">10</text>
<text x="36.10" y="242.88" font-family="'Liberation Sans', sans-serif" font-size="10.5" fill="#5a5a5a" text-anchor="start" textLength="2.5" lengthAdjust="spacingAndGlyphs">-</text>
<text x="41.20" y="243.38" font-family="'Liberation Sans', sans-serif" font-size="10.5" fill="#5a5a5a" text-anchor="start" textLength="10.6" lengthAdjust="spacingAndGlyphs">20</text>
<text x="24.30" y="210.81" font-family="'Liberation Sans', sans-serif" font-size="10.5" fill="#5a5a5a" text-anchor="start">10</text>
<text x="36.10" y="206.21" font-family="'Liberation Sans', sans-serif" font-size="10.5" fill="#5a5a5a" text-anchor="start" textLength="2.5" lengthAdjust="spacingAndGlyphs">-</text>
<text x="41.20" y="206.71" font-family="'Liberation Sans', sans-serif" font-size="10.5" fill="#5a5a5a" text-anchor="start" textLength="10.6" lengthAdjust="spacingAndGlyphs">18</text>
<text x="24.30" y="174.15" font-family="'Liberation Sans', sans-serif" font-size="10.5" fill="#5a5a5a" text-anchor="start">10</text>
<text x="36.10" y="169.55" font-family="'Liberation Sans', sans-serif" font-size="10.5" fill="#5a5a5a" text-anchor="start" textLength="2.5" lengthAdjust="spacingAndGlyphs">-</text>
<text x="41.20" y="170.05" font-family="'Liberation Sans', sans-serif" font-size="10.5" fill="#5a5a5a" text-anchor="start" textLength="10.6" lengthAdjust="spacingAndGlyphs">16</text>
<text x="24.30" y="137.48" font-family="'Liberation Sans', sans-serif" font-size="10.5" fill="#5a5a5a" text-anchor="start">10</text>
<text x="36.10" y="132.88" font-family="'Liberation Sans', sans-serif" font-size="10.5" fill="#5a5a5a" text-anchor="start" textLength="2.5" lengthAdjust="spacingAndGlyphs">-</text>
<text x="41.20" y="133.38" font-family="'Liberation Sans', sans-serif" font-size="10.5" fill="#5a5a5a" text-anchor="start" textLength="10.6" lengthAdjust="spacingAndGlyphs">14</text>
<text x="24.30" y="100.82" font-family="'Liberation Sans', sans-serif" font-size="10.5" fill="#5a5a5a" text-anchor="start">10</text>
<text x="36.10" y="96.22" font-family="'Liberation Sans', sans-serif" font-size="10.5" fill="#5a5a5a" text-anchor="start" textLength="2.5" lengthAdjust="spacingAndGlyphs">-</text>
<text x="41.20" y="96.72" font-family="'Liberation Sans', sans-serif" font-size="10.5" fill="#5a5a5a" text-anchor="start" textLength="10.6" lengthAdjust="spacingAndGlyphs">12</text>
<text x="24.30" y="64.15" font-family="'Liberation Sans', sans-serif" font-size="10.5" fill="#5a5a5a" text-anchor="start">10</text>
<text x="36.10" y="59.55" font-family="'Liberation Sans', sans-serif" font-size="10.5" fill="#5a5a5a" text-anchor="start" textLength="2.5" lengthAdjust="spacingAndGlyphs">-</text>
<text x="41.20" y="60.05" font-family="'Liberation Sans', sans-serif" font-size="10.5" fill="#5a5a5a" text-anchor="start" textLength="10.6" lengthAdjust="spacingAndGlyphs">10</text>
<text x="55.10" y="294.10" font-family="'Liberation Sans', sans-serif" font-size="10.5" fill="#5a5a5a" text-anchor="middle">0.1</text>
<text x="136.55" y="294.10" font-family="'Liberation Sans', sans-serif" font-size="10.5" fill="#5a5a5a" text-anchor="middle">1</text>
<text x="218.00" y="294.10" font-family="'Liberation Sans', sans-serif" font-size="10.5" fill="#5a5a5a" text-anchor="middle">10</text>
<text x="299.45" y="294.10" font-family="'Liberation Sans', sans-serif" font-size="10.5" fill="#5a5a5a" text-anchor="middle">100</text>
<text x="105.75" y="35.20" font-family="'Liberation Sans', sans-serif" font-size="10.5" fill="#5a5a5a" text-anchor="start">10</text>
<text x="117.75" y="31.30" font-family="'Liberation Sans', sans-serif" font-size="10.5" fill="#5a5a5a" text-anchor="start" textLength="10.6" lengthAdjust="spacingAndGlyphs">16</text>
<text x="187.20" y="35.20" font-family="'Liberation Sans', sans-serif" font-size="10.5" fill="#5a5a5a" text-anchor="start">10</text>
<text x="199.20" y="31.30" font-family="'Liberation Sans', sans-serif" font-size="10.5" fill="#5a5a5a" text-anchor="start" textLength="10.6" lengthAdjust="spacingAndGlyphs">15</text>
<text x="268.65" y="35.20" font-family="'Liberation Sans', sans-serif" font-size="10.5" fill="#5a5a5a" text-anchor="start">10</text>
<text x="280.65" y="31.30" font-family="'Liberation Sans', sans-serif" font-size="10.5" fill="#5a5a5a" text-anchor="start" textLength="10.6" lengthAdjust="spacingAndGlyphs">14</text>
<text x="350.10" y="35.20" font-family="'Liberation Sans', sans-serif" font-size="10.5" fill="#5a5a5a" text-anchor="start">10</text>
<text x="362.10" y="31.30" font-family="'Liberation Sans', sans-serif" font-size="10.5" fill="#5a5a5a" text-anchor="start" textLength="10.6" lengthAdjust="spacingAndGlyphs">13</text>
<text x="191.0" y="12.4" font-family="'Liberation Serif', serif" font-size="13" font-style="italic" fill="#1c1c1c">f</text>
<text x="196.75" y="13.5" font-family="'Liberation Serif', serif" font-size="8.5" font-style="italic" fill="#1c1c1c">a</text>
<text x="206.06" y="12.4" font-family="'Liberation Serif', serif" font-size="14.2" fill="#1c1c1c">(</text>
<text x="210.2" y="12.4" font-family="'Liberation Serif', serif" font-size="13" textLength="23.0" lengthAdjust="spacingAndGlyphs" fill="#1c1c1c">GeV</text>
<text x="233.5" y="12.4" font-family="'Liberation Serif', serif" font-size="14.2" fill="#1c1c1c">)</text>
<text x="188.5" y="315.6" font-family="'Liberation Serif', serif" font-size="13" font-style="italic" textLength="12.1" lengthAdjust="spacingAndGlyphs" fill="#1c1c1c">m</text>
<text x="200.0" y="317.2" font-family="'Liberation Serif', serif" font-size="8.5" font-style="italic" fill="#1c1c1c">a</text>
<text x="209.7" y="315.6" font-family="'Liberation Serif', serif" font-size="14.2" fill="#1c1c1c">(</text>
<text x="214.1" y="315.6" font-family="'Liberation Serif', serif" font-size="13" textLength="19.9" lengthAdjust="spacingAndGlyphs" fill="#1c1c1c">neV</text>
<text x="234.3" y="315.6" font-family="'Liberation Serif', serif" font-size="14.2" fill="#1c1c1c">)</text>
<g transform="translate(11.7 202.3) rotate(-90)">
<line x1="0.4" y1="-10.4" x2="0.4" y2="2.7" stroke="#1c1c1c" stroke-width="0.7"/>
<text x="2.4" y="-0.3" font-family="'Liberation Serif', serif" font-size="13" font-style="italic" textLength="7.0" lengthAdjust="spacingAndGlyphs" fill="#1c1c1c">g</text>
<text x="10.9" y="2.6" font-family="'Liberation Serif', serif" font-size="8.5" font-style="italic" fill="#1c1c1c">a</text>
<text x="15.7" y="2.6" font-family="'Liberation Serif', serif" font-size="8.5" font-style="italic" fill="#1c1c1c">D</text>
<line x1="24" y1="-10.4" x2="24" y2="2.7" stroke="#1c1c1c" stroke-width="0.7"/>
<text x="33.5" y="0" font-family="'Liberation Serif', serif" font-size="14.2" fill="#1c1c1c">(</text>
<text x="39.7" y="0" font-family="'Liberation Serif', serif" font-size="13" textLength="23.5" lengthAdjust="spacingAndGlyphs" fill="#1c1c1c">GeV</text>
<line x1="62.9" y1="-8.4" x2="68.6" y2="-8.4" stroke="#1c1c1c" stroke-width="0.7"/>
<text x="69.4" y="-5.8" font-family="'Liberation Serif', serif" font-size="9.5" textLength="5.4" lengthAdjust="spacingAndGlyphs" fill="#1c1c1c">2</text>
<text x="74.6" y="0" font-family="'Liberation Serif', serif" font-size="14.2" fill="#1c1c1c">)</text>
</g>
</svg>
</body></html>
